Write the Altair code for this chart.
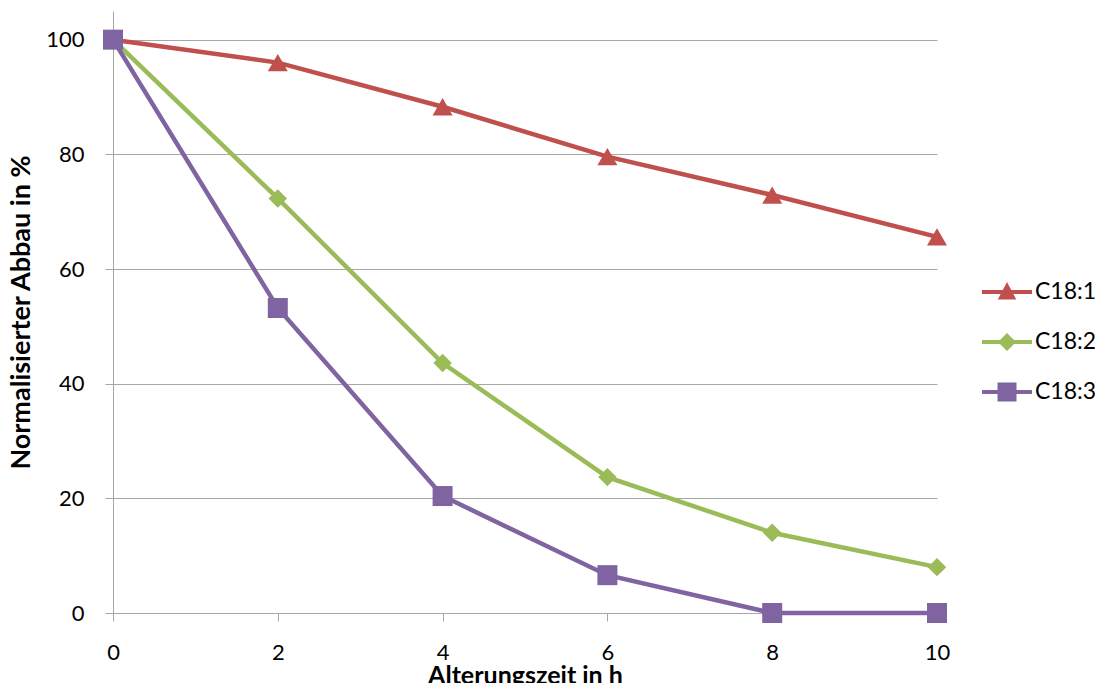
import altair as alt
import pandas as pd

hours = [0, 2, 4, 6, 8, 10]
series_names = ["C18:1", "C18:2", "C18:3"]
c18_1 = [100, 96.0, 88.3, 79.6, 72.9, 65.6]
c18_2 = [100, 72.3, 43.6, 23.7, 14.0, 8.0]
c18_3 = [100, 53.2, 20.4, 6.6, 0, 0]
colors = ["#C0504D", "#9BBB59", "#8064A2"]
marker_shapes = ["triangle-up", "diamond", "square"]
marker_sizes = [400, 340, 400]
y_ticks = [0, 20, 40, 60, 80, 100]
x_ticks = [0, 2, 4, 6, 8, 10]

rows = []
for name, vals in zip(series_names, [c18_1, c18_2, c18_3]):
    for h, v in zip(hours, vals):
        rows.append({"h": h, "v": v, "series": name})
df = pd.DataFrame(rows)

FONT = "Lato"
GRID = "#A6A6A6"

x_enc = alt.X("h:Q", scale=alt.Scale(domain=[0, 10], nice=False),
              axis=alt.Axis(values=x_ticks, title="Alterungszeit in h", grid=False,
                            tickSize=8, labelPadding=21, titlePadding=0, labelFlush=False,
                            labelFont=FONT, labelFontSize=22, labelColor="black",
                            titleFont=FONT, titleFontSize=25, titleFontWeight="bold",
                            titleColor="black", domainColor=GRID, tickColor=GRID))
y_enc = alt.Y("v:Q", scale=alt.Scale(domain=[0, 105], nice=False),
              axis=alt.Axis(values=y_ticks, title="Normalisierter Abbau in %", grid=True,
                            gridColor=GRID, tickSize=8, labelPadding=21, titlePadding=10,
                            labelFont=FONT, labelFontSize=22, labelColor="black",
                            titleFont=FONT, titleFontSize=27, titleFontWeight="bold",
                            titleColor="black", domainColor=GRID, tickColor=GRID))
color_scale = alt.Scale(domain=series_names, range=colors)

# legend symbols: a line with the marker on it
LINE = "M-1,-0.08L1,-0.08L1,0.08L-1,0.08Z"
legend_paths = [
    LINE + "M-0.37,0.3L0,-0.4L0.37,0.3Z",
    LINE + "M-0.36,0L0,-0.36L0.36,0L0,0.36Z",
    LINE + "M-0.38,-0.38L0.38,-0.38L0.38,0.38L-0.38,0.38Z",
]

line_layers = []
point_layers = []
for name, col, shp, sz in zip(series_names, colors, marker_shapes, marker_sizes):
    sub = alt.Chart(df).transform_filter(alt.datum.series == name)
    line_layers.append(
        sub.mark_line(strokeWidth=4.5, color=col).encode(x=x_enc, y=y_enc, order=alt.Order("h:Q"))
    )
    point_layers.append(
        sub.mark_point(filled=True, opacity=1, shape=shp, size=sz, color=col)
        .encode(x=x_enc, y=y_enc)
    )

legend = alt.Legend(
    title=None, orient="none", legendX=869, legendY=256, padding=0,
    labelFont=FONT, labelFontSize=23, labelColor="black", labelOffset=3,
    symbolSize=2500, symbolStrokeWidth=0, symbolOpacity=1, rowPadding=13,
)

legend_layer = alt.Chart(df).mark_point(filled=True, opacity=0).encode(
    x=x_enc, y=y_enc,
    color=alt.Color("series:N", scale=color_scale, legend=legend),
    shape=alt.Shape("series:N", scale=alt.Scale(domain=series_names, range=legend_paths),
                    legend=legend),
)

chart = alt.layer(*line_layers, *point_layers, legend_layer).properties(
    width=824, height=602,
    autosize=alt.AutoSizeParams(type="none"),
    padding={"left": 105, "top": 3, "right": 158, "bottom": 70},
).configure_view(stroke=None)

chart.save("out.html", embed_options={"renderer": "svg", "actions": False})
